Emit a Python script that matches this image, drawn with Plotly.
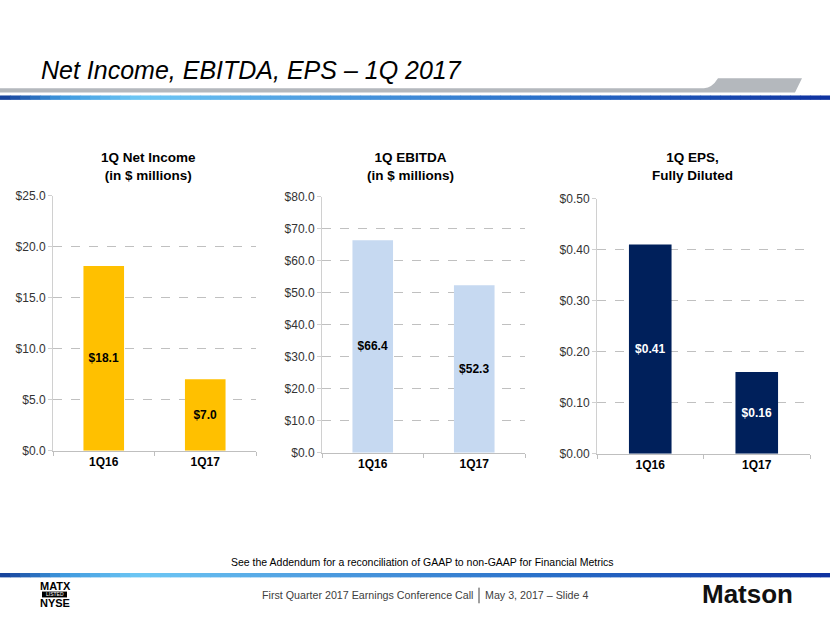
import plotly.graph_objects as go

W, H = 830, 623

categories = ["1Q16", "1Q17"]
net_income = [18.1, 7.0]
ebitda = [66.4, 52.3]
eps = [0.41, 0.16]

net_income_labels = ["$18.1", "$7.0"]
ebitda_labels = ["$66.4", "$52.3"]
eps_labels = ["$0.41", "$0.16"]

ni_ticks = [0, 5, 10, 15, 20, 25]
ni_tick_labels = ["$0.0", "$5.0", "$10.0", "$15.0", "$20.0", "$25.0"]
eb_ticks = [0, 10, 20, 30, 40, 50, 60, 70, 80]
eb_tick_labels = ["$0.0", "$10.0", "$20.0", "$30.0", "$40.0", "$50.0", "$60.0", "$70.0", "$80.0"]
eps_ticks = [0, 0.1, 0.2, 0.3, 0.4, 0.5]
eps_tick_labels = ["$0.00", "$0.10", "$0.20", "$0.30", "$0.40", "$0.50"]

FONT = "Arial, Liberation Sans, sans-serif"

def px(x):
    return x / W

def py(y):
    return 1 - y / H

fig = go.Figure()

panels = [
    dict(vals=net_income, labels=net_income_labels, color="#FFC000", tcolor="#000000",
         xd=(53, 256), yd=(193, 454), rng=[0, 25], ticks=ni_ticks, tlabels=ni_tick_labels,
         title="<b>1Q Net Income<br>(in $ millions)</b>", tx=148),
    dict(vals=ebitda, labels=ebitda_labels, color="#C6D9F1", tcolor="#000000",
         xd=(322, 525), yd=(194, 456), rng=[0, 80], ticks=eb_ticks, tlabels=eb_tick_labels,
         title="<b>1Q EBITDA<br>(in $ millions)</b>", tx=410),
    dict(vals=eps, labels=eps_labels, color="#00205B", tcolor="#FFFFFF",
         xd=(597, 810), yd=(196, 457), rng=[0, 0.5], ticks=eps_ticks, tlabels=eps_tick_labels,
         title="<b>1Q EPS,<br>Fully Diluted</b>", tx=692),
]

annotations = []
shapes = []

for i, p in enumerate(panels, start=1):
    xa = "x" if i == 1 else f"x{i}"
    ya = "y" if i == 1 else f"y{i}"
    fig.add_trace(go.Bar(
        x=categories, y=p["vals"], text=p["labels"], xaxis=xa, yaxis=ya,
        marker=dict(color=p["color"], line=dict(width=0)), width=0.4,
        textposition="inside", insidetextanchor="middle", textangle=0,
        textfont=dict(family=FONT, size=12, color=p["tcolor"]),
        texttemplate="<b>%{text}</b>", showlegend=False, hoverinfo="skip",
    ))
    xkey = "xaxis" if i == 1 else f"xaxis{i}"
    ykey = "yaxis" if i == 1 else f"yaxis{i}"
    fig.update_layout(**{
        xkey: dict(domain=[px(p["xd"][0]), px(p["xd"][1])], anchor=ya,
                   showline=True, linecolor="#BFBFBF", linewidth=1,
                   ticks="outside", tickson="boundaries", ticklen=4, tickcolor="#BFBFBF",
                   tickfont=dict(family=FONT, size=12, color="#000000"),
                   tickvals=categories, ticktext=[f"<b>{c}</b>" for c in categories],
                   showgrid=False, fixedrange=True),
        ykey: dict(domain=[py(p["yd"][1]), py(p["yd"][0])], anchor=xa,
                   range=p["rng"], tickmode="array", tickvals=p["ticks"], ticktext=p["tlabels"],
                   showline=True, linecolor="#D0D0D0", linewidth=1,
                   ticks="outside", ticklen=4, tickcolor="#D0D0D0",
                   tickfont=dict(family=FONT, size=12, color="#333333"),
                   showgrid=True, gridcolor="#C0C0C0", griddash="dash", gridwidth=1,
                   zeroline=False, fixedrange=True),
    })
    annotations.append(dict(text=p["title"], x=px(p["tx"]), y=py(163), xref="paper", yref="paper",
                            showarrow=False, xanchor="center", yanchor="middle",
                            font=dict(family=FONT, size=13.5, color="#000000"), align="center"))

# header title
annotations.append(dict(text="<i>Net Income, EBITDA, EPS – 1Q 2017</i>", x=px(39), y=py(64),
                        xref="paper", yref="paper", showarrow=False, xanchor="left", yanchor="middle",
                        font=dict(family=FONT, size=25, color="#000000")))

# gray header band with tab
shapes.append(dict(type="path", xref="paper", yref="paper",
                   path=(f"M {px(0)},{py(83)} L {px(704)},{py(83)} "
                         f"Q {px(712)},{py(83)} {px(718)},{py(73)} "
                         f"L {px(802)},{py(73)} L {px(795)},{py(87.5)} L {px(0)},{py(87.5)} Z"),
                   fillcolor="#B4B8BD", line=dict(width=0), layer="above"))

# blue gradient lines (header and footer)
stops = [(0, (20, 60, 150)), (60, (60, 150, 220)), (140, (110, 200, 245)),
         (300, (80, 160, 225)), (550, (40, 110, 200)), (830, (15, 50, 160))]

def col_at(x):
    for (x0, c0), (x1, c1) in zip(stops[:-1], stops[1:]):
        if x0 <= x <= x1:
            t = (x - x0) / (x1 - x0)
            return "rgb(%d,%d,%d)" % tuple(round(a + (b - a) * t) for a, b in zip(c0, c1))
    return "rgb(%d,%d,%d)" % stops[-1][1]

seg = 10
for (y0, y1) in [(90.5, 95), (579, 583.5)]:
    for x in range(0, W, seg):
        shapes.append(dict(type="rect", xref="paper", yref="paper",
                           x0=px(x), x1=px(x + seg + 0.5), y0=py(y1), y1=py(y0),
                           fillcolor=col_at(x + seg / 2), line=dict(width=0), layer="above"))

# footer notes
annotations.append(dict(text="See the Addendum for a reconciliation of GAAP to non-GAAP for Financial Metrics",
                        x=px(422), y=py(568), xref="paper", yref="paper", showarrow=False,
                        xanchor="center", yanchor="middle",
                        font=dict(family=FONT, size=10.5, color="#000000")))
annotations.append(dict(text="First Quarter 2017 Earnings Conference Call",
                        x=px(475), y=py(602), xref="paper", yref="paper", showarrow=False,
                        xanchor="right", yanchor="middle",
                        font=dict(family=FONT, size=10.7, color="#404040")))
annotations.append(dict(text="May 3, 2017 – Slide 4",
                        x=px(483), y=py(602), xref="paper", yref="paper", showarrow=False,
                        xanchor="left", yanchor="middle",
                        font=dict(family=FONT, size=10.7, color="#404040")))
shapes.append(dict(type="line", xref="paper", yref="paper", x0=px(479), x1=px(479),
                   y0=py(610), y1=py(594), line=dict(color="#404040", width=1)))

# MATX NYSE logo
NARROW = "Liberation Sans Narrow, Arial Narrow, " + FONT
annotations.append(dict(text="<b>MATX</b>", x=px(55), y=py(592), xref="paper", yref="paper",
                        showarrow=False, xanchor="center", yanchor="middle",
                        font=dict(family=NARROW, size=11, color="#000000")))
shapes.append(dict(type="rect", xref="paper", yref="paper", x0=px(42), x1=px(67),
                   y0=py(604), y1=py(598), fillcolor="#000000", line=dict(width=0)))
annotations.append(dict(text="LISTED", x=px(54.5), y=py(601), xref="paper", yref="paper",
                        showarrow=False, xanchor="center", yanchor="middle",
                        font=dict(family=FONT, size=5, color="#FFFFFF")))
annotations.append(dict(text="<b>NYSE</b>", x=px(55), y=py(610), xref="paper", yref="paper",
                        showarrow=False, xanchor="center", yanchor="middle",
                        font=dict(family=NARROW, size=11, color="#000000")))

# Matson logo
annotations.append(dict(text="<b>Matson</b>", x=px(747), y=py(601), xref="paper", yref="paper",
                        showarrow=False, xanchor="center", yanchor="middle",
                        font=dict(family=NARROW, size=26, color="#111111")))

fig.update_layout(width=W, height=H, margin=dict(l=0, r=0, t=0, b=0), autosize=False,
                  paper_bgcolor="#FFFFFF", plot_bgcolor="#FFFFFF",
                  annotations=annotations, shapes=shapes, bargap=0.6,
                  font=dict(family=FONT))

fig.write_html("out.html", config={"displayModeBar": False, "responsive": False},
               default_width="830px", default_height="623px",
               post_script="document.body.style.margin='0';document.body.style.overflow='hidden';")
